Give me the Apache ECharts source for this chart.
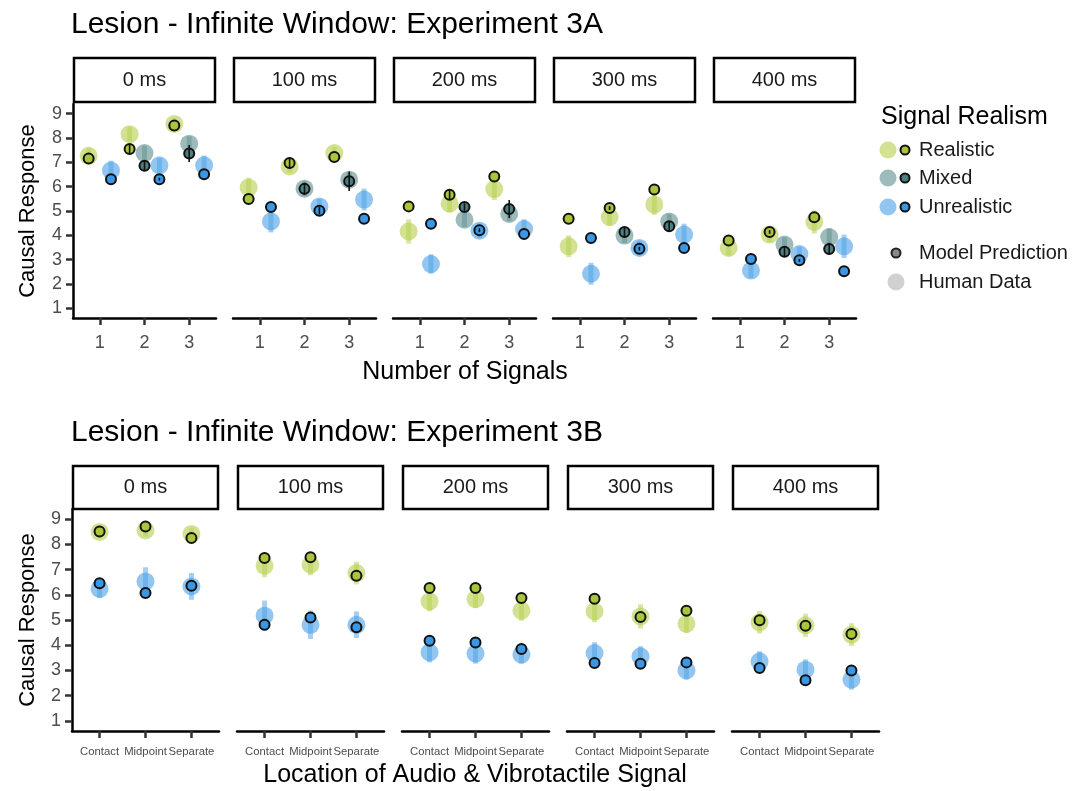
<!DOCTYPE html>
<html>
<head>
<meta charset="utf-8">
<title>Lesion - Infinite Window</title>
<script src="https://cdn.jsdelivr.net/npm/echarts@6/dist/echarts.min.js"></script>
<style>
  html, body { margin: 0; padding: 0; background: #ffffff; }
  #chart { width: 1072px; height: 791px; }
</style>
</head>
<body>
<div id="chart"></div>
<script>
// ---------- data ----------
const delays = ['0 ms', '100 ms', '200 ms', '300 ms', '400 ms'];
const signalCounts = ['1', '2', '3'];
const locations = ['Contact', 'Midpoint', 'Separate'];
const yTicks = [1, 2, 3, 4, 5, 6, 7, 8, 9];

// Experiment 3A: one row per delay, values for 1, 2, 3 signals
const humanA_realistic   = [[7.27, 8.16, 8.58], [5.97, 6.83, 7.38], [4.16, 5.30, 5.90], [3.55, 4.75, 5.26], [3.48, 4.03, 4.55]];
const humanA_mixed       = [[null, 7.38, 7.77], [null, 5.92, 6.29], [null, 4.64, 4.88], [null, 3.99, 4.57], [null, 3.62, 3.93]];
const humanA_unrealistic = [[6.67, 6.88, 6.88], [4.57, 5.19, 5.47], [2.82, 4.19, 4.26], [2.42, 3.48, 4.03], [2.55, 3.23, 3.55]];
const humanA_realistic_se   = [[0.30, 0.30, 0.25], [0.40, 0.25, 0.25], [0.50, 0.35, 0.45], [0.45, 0.35, 0.42], [0.32, 0.30, 0.48]];
const humanA_mixed_se       = [[null, 0.30, 0.30], [null, 0.30, 0.30], [null, 0.30, 0.30], [null, 0.30, 0.30], [null, 0.30, 0.35]];
const humanA_unrealistic_se = [[0.40, 0.30, 0.40], [0.45, 0.30, 0.45], [0.40, 0.30, 0.40], [0.45, 0.30, 0.45], [0.30, 0.30, 0.48]];

const modelA_realistic   = [[7.16, 7.55, 8.52], [5.49, 6.97, 7.22], [5.19, 5.67, 6.42], [4.68, 5.12, 5.88], [3.79, 4.14, 4.74]];
const modelA_mixed       = [[null, 6.86, 7.36], [null, 5.91, 6.22], [null, 5.16, 5.08], [null, 4.14, 4.37], [null, 3.32, 3.44]];
const modelA_unrealistic = [[6.31, 6.31, 6.51], [5.16, 5.01, 4.68], [4.48, 4.21, 4.05], [3.89, 3.45, 3.48], [3.03, 2.97, 2.52]];
const modelA_realistic_se   = [[0, 0.20, 0], [0, 0.20, 0], [0, 0.20, 0], [0, 0.08, 0], [0, 0.08, 0]];
const modelA_mixed_se       = [[null, 0.20, 0.35], [null, 0.25, 0.40], [null, 0.15, 0.37], [null, 0.20, 0.20], [null, 0.20, 0.25]];
const modelA_unrealistic_se = [[0, 0.06, 0], [0, 0.15, 0], [0, 0.08, 0], [0, 0.08, 0], [0, 0.06, 0]];

// Experiment 3B: one row per delay, values for Contact, Midpoint, Separate
const humanB_realistic   = [[8.49, 8.55, 8.41], [7.15, 7.19, 6.86], [5.74, 5.83, 5.37], [5.34, 5.14, 4.85], [4.91, 4.79, 4.42]];
const humanB_unrealistic = [[6.23, 6.53, 6.33], [5.17, 4.81, 4.81], [3.72, 3.67, 3.63], [3.69, 3.56, 3.00], [3.36, 3.03, 2.64]];
const humanB_realistic_se   = [[0.25, 0.25, 0.25], [0.46, 0.42, 0.45], [0.40, 0.36, 0.40], [0.43, 0.48, 0.36], [0.45, 0.46, 0.45]];
const humanB_unrealistic_se = [[0.35, 0.56, 0.53], [0.60, 0.56, 0.53], [0.40, 0.40, 0.36], [0.43, 0.40, 0.36], [0.40, 0.41, 0.40]];

const modelB_realistic   = [[8.51, 8.71, 8.25], [7.46, 7.49, 6.75], [6.27, 6.27, 5.87], [5.84, 5.12, 5.37], [4.99, 4.77, 4.45]];
const modelB_unrealistic = [[6.46, 6.07, 6.36], [4.81, 5.10, 4.71], [4.18, 4.11, 3.85], [3.30, 3.27, 3.32], [3.10, 2.61, 3.00]];

// ---------- styling ----------
const FONT = '"Liberation Sans", Arial, sans-serif';
const colors = { Realistic: '#a9c53b', Mixed: '#4b7f80', Unrealistic: '#3b97e3' };
const humanColors = { Realistic: '#b4cf4a', Mixed: '#5e8e8f', Unrealistic: '#4aa0e8' };

const topLayout = { left0: 73, step: 160, width: 143, top: 104, height: 214, stripTop: 58, stripH: 44, labelMargin: 16 };
const botLayout = { left0: 72, step: 165, width: 147, top: 509, height: 222, stripTop: 466, stripH: 43, labelMargin: 15 };

const grids = [], xAxes = [], yAxes = [], series = [], graphics = [];

function addPanel(gi, layout, p, xLabels, labelSize) {
  const left = layout.left0 + p * layout.step;
  grids.push({ left: left, top: layout.top, width: layout.width, height: layout.height });
  xAxes.push({
    gridIndex: gi, type: 'value', min: 0.4, max: 3.6,
    axisLine: { show: true, lineStyle: { color: '#000', width: 2.5 } },
    axisTick: { show: true, customValues: [1, 2, 3], length: 7, lineStyle: { color: '#333', width: 2.5 } },
    axisLabel: { show: true, customValues: [1, 2, 3], formatter: v => xLabels[Math.round(v) - 1],
                 hideOverlap: false, showMinLabel: true, showMaxLabel: true,
                 color: '#4d4d4d', fontSize: labelSize, fontFamily: FONT, margin: layout.labelMargin },
    splitLine: { show: false }
  });
  const first = p === 0;
  yAxes.push({
    gridIndex: gi, type: 'value', min: 0.6, max: 9.4,
    axisLine: { show: first, onZero: false, lineStyle: { color: '#000', width: 2.5 } },
    axisTick: { show: first, customValues: yTicks, length: 7, lineStyle: { color: '#333', width: 2.5 } },
    axisLabel: { show: first, customValues: yTicks, color: '#4d4d4d', fontSize: 18, fontFamily: FONT, margin: 11 },
    splitLine: { show: false }
  });
  // facet strip
  graphics.push({
    type: 'rect', shape: { x: left + 1, y: layout.stripTop, width: layout.width - 2, height: layout.stripH },
    style: { fill: '#fff', stroke: '#000', lineWidth: 2.5 }
  });
  graphics.push({
    type: 'text', x: left + layout.width / 2, y: layout.stripTop + layout.stripH / 2,
    style: { text: delays[p], fill: '#1a1a1a', font: '20px ' + FONT, align: 'center', verticalAlign: 'middle' }
  });
}

function errBarSeries(gi, data, color, width, opacity, z) {
  return {
    type: 'custom', xAxisIndex: gi, yAxisIndex: gi, z: z, silent: true,
    data: data,
    renderItem: (params, api) => {
      const a = api.coord([api.value(0), api.value(1)]);
      const b = api.coord([api.value(0), api.value(2)]);
      return { type: 'line', shape: { x1: a[0], y1: a[1], x2: b[0], y2: b[1] },
               style: { stroke: color, lineWidth: width, opacity: opacity } };
    }
  };
}

function humanPoints(gi, data, key) {
  return { type: 'scatter', xAxisIndex: gi, yAxisIndex: gi, z: 3, silent: true,
           symbolSize: 18, data: data,
           itemStyle: { color: humanColors[key], opacity: 0.6 } };
}
function modelPoints(gi, data, key) {
  return { type: 'scatter', xAxisIndex: gi, yAxisIndex: gi, z: 5, silent: true,
           symbolSize: 10, data: data,
           itemStyle: { color: colors[key], borderColor: '#111', borderWidth: 2, opacity: 1 } };
}

// dodge offsets (dodge width 1): two groups when only two are present
function dodgeOffset(idx, n) {
  return n === 2 ? (idx === 0 ? -0.25 : 0.25) : (idx - 1) / 3;
}

// ---------- Experiment 3A panels ----------
const realismA = [
  { key: 'Realistic',   h: humanA_realistic,   hse: humanA_realistic_se,   m: modelA_realistic,   mse: modelA_realistic_se },
  { key: 'Mixed',       h: humanA_mixed,       hse: humanA_mixed_se,       m: modelA_mixed,       mse: modelA_mixed_se },
  { key: 'Unrealistic', h: humanA_unrealistic, hse: humanA_unrealistic_se, m: modelA_unrealistic, mse: modelA_unrealistic_se }
];
delays.forEach((d, p) => {
  const gi = p;
  addPanel(gi, topLayout, p, signalCounts, 18);
  realismA.forEach(r => {
    const hp = [], he = [], mp = [], me = [];
    signalCounts.forEach((s, si) => {
      if (r.h[p][si] == null) return;
      const present = realismA.filter(q => q.h[p][si] != null);
      const x = (si + 1) + dodgeOffset(present.indexOf(r), present.length);
      hp.push([x, r.h[p][si]]);
      he.push([x, r.h[p][si] - r.hse[p][si], r.h[p][si] + r.hse[p][si]]);
      mp.push([x, r.m[p][si]]);
      if (r.mse[p][si] > 0) me.push([x, r.m[p][si] - r.mse[p][si], r.m[p][si] + r.mse[p][si]]);
    });
    series.push(errBarSeries(gi, he, humanColors[r.key], 5, 0.5, 2));
    series.push(humanPoints(gi, hp, r.key));
    series.push(modelPoints(gi, mp, r.key));
    series.push(errBarSeries(gi, me, '#111', 1.6, 1, 6));
  });
});

// ---------- Experiment 3B panels ----------
const realismB = [
  { key: 'Realistic',   h: humanB_realistic,   hse: humanB_realistic_se,   m: modelB_realistic },
  { key: 'Unrealistic', h: humanB_unrealistic, hse: humanB_unrealistic_se, m: modelB_unrealistic }
];
delays.forEach((d, p) => {
  const gi = 5 + p;
  addPanel(gi, botLayout, p, locations, 11.3);
  realismB.forEach(r => {
    const hp = [], he = [], mp = [];
    locations.forEach((loc, li) => {
      const x = li + 1;
      hp.push([x, r.h[p][li]]);
      he.push([x, r.h[p][li] - r.hse[p][li], r.h[p][li] + r.hse[p][li]]);
      mp.push([x, r.m[p][li]]);
    });
    series.push(errBarSeries(gi, he, humanColors[r.key], 5, 0.5, 2));
    series.push(humanPoints(gi, hp, r.key));
    series.push(modelPoints(gi, mp, r.key));
  });
});

// ---------- titles and axis titles ----------
function text(x, y, str, size, opts) {
  return {
    type: 'text', x: x, y: y,
    style: Object.assign({ text: str, fill: '#000', font: size + 'px ' + FONT, align: 'left', verticalAlign: 'middle' }, opts || {})
  };
}
graphics.push(text(71, 25, 'Lesion - Infinite Window: Experiment 3A', 30));
graphics.push(text(71, 433, 'Lesion - Infinite Window: Experiment 3B', 30));
graphics.push(text(465, 372, 'Number of Signals', 25, { align: 'center' }));
graphics.push(text(475, 775, 'Location of Audio & Vibrotactile Signal', 25, { align: 'center' }));
graphics.push({ type: 'text', x: 28, y: 211, rotation: Math.PI / 2,
  style: { text: 'Causal Response', fill: '#000', font: '22px ' + FONT, align: 'center', verticalAlign: 'middle' } });
graphics.push({ type: 'text', x: 28, y: 620, rotation: Math.PI / 2,
  style: { text: 'Causal Response', fill: '#000', font: '22px ' + FONT, align: 'center', verticalAlign: 'middle' } });

// ---------- legend ----------
graphics.push(text(881, 117, 'Signal Realism', 25));
[['Realistic', 150], ['Mixed', 178], ['Unrealistic', 207]].forEach(([k, y]) => {
  graphics.push({ type: 'circle', shape: { cx: 888, cy: y, r: 8.5 }, style: { fill: humanColors[k], opacity: 0.6 } });
  graphics.push({ type: 'circle', shape: { cx: 905, cy: y, r: 4.5 }, style: { fill: colors[k], stroke: '#111', lineWidth: 2 } });
  graphics.push(text(919, y, k, 20, { fill: '#1a1a1a' }));
});
graphics.push({ type: 'circle', shape: { cx: 896, cy: 253, r: 4.5 }, style: { fill: '#8a8a8a', stroke: '#222', lineWidth: 2 } });
graphics.push(text(919, 253, 'Model Prediction', 20, { fill: '#1a1a1a' }));
graphics.push({ type: 'circle', shape: { cx: 896, cy: 282, r: 8.5 }, style: { fill: '#bdbdbd', opacity: 0.7 } });
graphics.push(text(919, 282, 'Human Data', 20, { fill: '#1a1a1a' }));

const chart = echarts.init(document.getElementById('chart'), null, { renderer: 'canvas' });
chart.setOption({
  animation: false,
  backgroundColor: '#ffffff',
  grid: grids,
  xAxis: xAxes,
  yAxis: yAxes,
  series: series,
  graphic: graphics
});
</script>
</body>
</html>
